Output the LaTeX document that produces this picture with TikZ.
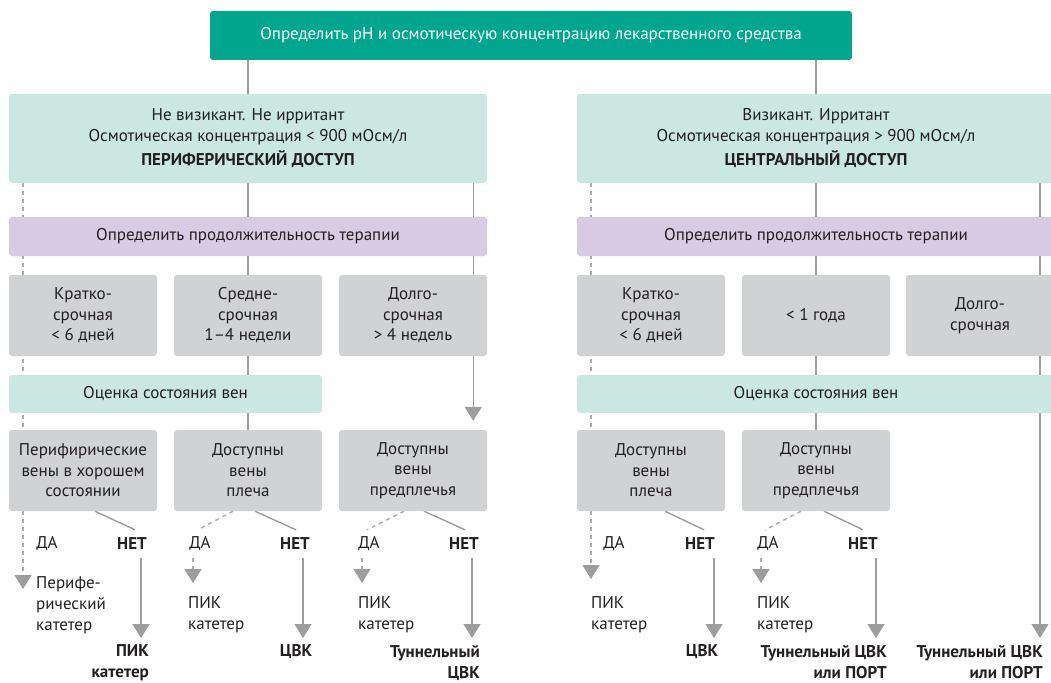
\documentclass[tikz,border=0pt]{standalone}
\usepackage{fontspec}
\setmainfont{PT Sans}
\usetikzlibrary{arrows.meta,backgrounds}
\definecolor{topgreen}{HTML}{00A78E}
\definecolor{mint}{HTML}{CBE7E1}
\definecolor{lilac}{HTML}{D8CBE3}
\definecolor{greybox}{HTML}{D1D2D4}
\definecolor{linegrey}{HTML}{9D9D9D}
\definecolor{textdark}{HTML}{231F20}

\begin{document}
\begin{tikzpicture}[x=1pt,y=-1pt,
	box/.style={rounded corners=3pt,inner sep=0pt,align=center,text=textdark,font=\fontsize{17}{20.5}\selectfont},
	topbox/.style={box,fill=topgreen,text=white,minimum width=642pt,minimum height=49pt},
	accessbox/.style={box,fill=mint,minimum width=478pt,minimum height=89pt},
	therapybox/.style={box,fill=lilac,minimum width=478pt,minimum height=39pt},
	termbox/.style={box,fill=greybox,minimum width=148pt,minimum height=81pt},
	veinbox/.style={box,fill=mint,minimum height=38pt},
	askbox/.style={box,fill=greybox,minimum width=148pt,minimum height=81pt},
	answer/.style={inner sep=0pt,minimum height=28pt,text=textdark,font=\fontsize{17}{21}\selectfont},
	result/.style={inner sep=0pt,text=textdark,font=\fontsize{17}{21}\selectfont},
	link/.style={draw=linegrey,line width=1.4pt},
	dashlink/.style={draw=linegrey!85,line width=1.4pt,dash pattern=on 4pt off 4pt},
	headed/.style={-{Triangle[width=17pt,length=14pt,fill=linegrey,color=linegrey]}}
]
	\useasboundingbox (0,0) rectangle (1051,682);
	\clip (0,0) rectangle (1051,682);

	\node[topbox] (drug) at (531,35.5) {Определить pH и осмотическую концентрацию лекарственного средства};

	\node[accessbox] (periph) at (248,138.5) {Не визикант. Не ирритант\\Осмотическая концентрация < 900 мОсм/л\\[4pt]\textbf{ПЕРИФЕРИЧЕСКИЙ ДОСТУП}};
	\node[accessbox] (central) at (816,138.5) {Визикант. Ирритант\\Осмотическая концентрация > 900 мОсм/л\\[4pt]\textbf{ЦЕНТРАЛЬНЫЙ ДОСТУП}};

	\node[therapybox] (ptime) at (248,236.5) {Определить продолжительность терапии};
	\node[therapybox] (ctime) at (816,236.5) {Определить продолжительность терапии};

	\node[termbox] (pshort) at (83,315.5) {Кратко-\\срочная\\< 6 дней};
	\node[termbox] (pmid) at (248,315.5) {Средне-\\срочная\\1–4 недели};
	\node[termbox] (plong) at (413,315.5) {Долго-\\срочная\\> 4 недель};
	\node[termbox] (cshort) at (651,315.5) {Кратко-\\срочная\\< 6 дней};
	\node[termbox] (cmid) at (816,315.5) {< 1 года};
	\node[termbox] (clong) at (980,315.5) {Долго-\\срочная};

	\node[veinbox,minimum width=313pt] (pveins) at (165.5,394) {Оценка состояния вен};
	\node[veinbox,minimum width=478pt] (cveins) at (816,394) {Оценка состояния вен};

	\node[askbox] (ask1) at (83,470.5) {Перифирические\\вены в хорошем\\состоянии};
	\node[askbox] (ask2) at (248,470.5) {Доступны\\вены\\плеча};
	\node[askbox] (ask3) at (413,470.5) {Доступны\\вены\\предплечья};
	\node[askbox] (ask4) at (651,470.5) {Доступны\\вены\\плеча};
	\node[askbox] (ask5) at (816,470.5) {Доступны\\вены\\предплечья};

	\node[answer] (yes1) at (47,544) {ДА};
	\node[answer] (no1) at (132,544) {\textbf{НЕТ}};
	\node[answer] (yes2) at (200,544) {ДА};
	\node[answer] (no2) at (295,544) {\textbf{НЕТ}};
	\node[answer] (yes3) at (369,544) {ДА};
	\node[answer] (no3) at (464,544) {\textbf{НЕТ}};
	\node[answer] (yes4) at (614,544) {ДА};
	\node[answer] (no4) at (700,544) {\textbf{НЕТ}};
	\node[answer] (yes5) at (768,544) {ДА};
	\node[answer] (no5) at (863,544) {\textbf{НЕТ}};

	\node[result,anchor=west,align=left] (pvc) at (36,605) {Перифе-\\рический\\катетер};
	\node[result,anchor=east,align=right] (picc1) at (149,663) {\textbf{ПИК}\\\textbf{катетер}};
	\node[result,anchor=west,align=left] (picc2) at (188,615) {ПИК\\катетер};
	\node[result] (cvc1) at (296,652) {\textbf{ЦВК}};
	\node[result,anchor=west,align=left] (picc3) at (358,615) {ПИК\\катетер};
	\node[result,anchor=east,align=right] (tun1) at (480,663) {\textbf{Туннельный}\\\textbf{ЦВК}};
	\node[result,anchor=west,align=left] (picc4) at (591,615) {ПИК\\катетер};
	\node[result] (cvc2) at (702,652) {\textbf{ЦВК}};
	\node[result,anchor=west,align=left] (picc5) at (757,615) {ПИК\\катетер};
	\node[result,anchor=east,align=right] (tun2) at (887,662) {\textbf{Туннельный ЦВК}\\\textbf{или ПОРТ}};
	\node[result,anchor=east,align=right] (tun3) at (1043,662) {\textbf{Туннельный ЦВК}\\\textbf{или ПОРТ}};

	\coordinate (pdash) at (23,589);
	\coordinate (cdash) at (591,579);
	\coordinate (ytip2) at (193,583);
	\coordinate (ytip3) at (362,583);
	\coordinate (ytip5) at (761,583);
	\coordinate (ntip1) at (141,638);
	\coordinate (ntip2) at (303,638);
	\coordinate (ntip3) at (472,638);
	\coordinate (ntip4) at (714,638);
	\coordinate (ntip5) at (876,638);
	\coordinate (ctip) at (1040,638);

	\begin{scope}[on background layer]
		\draw[link] (drug.south -| ask2.north) -- (ask2.north);
		\draw[link] (drug.south -| ask5.north) -- (ask5.north);
		\draw[link,headed] ([xshift=-14pt]periph.south east) -- ([xshift=-14pt,yshift=9pt]ask3.north east);
		\draw[link,headed] (central.south -| ctip) -- (ctip);
		\draw[dashlink,headed] (periph.south -| pdash) -- (pdash);
		\draw[dashlink,headed] (central.south -| cdash) -- (cdash);

		\draw[link] ([xshift=12pt]ask1.south) -- ([xshift=3pt]no1.north);
		\draw[dashlink] ([xshift=-15pt]ask2.south) -- ([xshift=-2pt]yes2.north);
		\draw[link] ([xshift=7pt]ask2.south) -- ([xshift=1pt]no2.north);
		\draw[dashlink] ([xshift=-9pt]ask3.south) -- ([xshift=-2pt]yes3.north);
		\draw[link] ([xshift=11pt]ask3.south) -- ([xshift=1pt]no3.north);
		\draw[link] ([xshift=14pt]ask4.south) -- ([xshift=4pt]no4.north);
		\draw[dashlink] ([xshift=-15pt]ask5.south) -- ([xshift=-3pt]yes5.north);
		\draw[link] ([xshift=8pt]ask5.south) -- (no5.north);

		\draw[dashlink,headed] (yes2.south -| ytip2) -- (ytip2);
		\draw[dashlink,headed] (yes3.south -| ytip3) -- (ytip3);
		\draw[dashlink,headed] (yes5.south -| ytip5) -- (ytip5);
		\draw[link,headed] (no1.south -| ntip1) -- (ntip1);
		\draw[link,headed] (no2.south -| ntip2) -- (ntip2);
		\draw[link,headed] (no3.south -| ntip3) -- (ntip3);
		\draw[link,headed] (no4.south -| ntip4) -- (ntip4);
		\draw[link,headed] (no5.south -| ntip5) -- (ntip5);
	\end{scope}
\end{tikzpicture}
\end{document}
